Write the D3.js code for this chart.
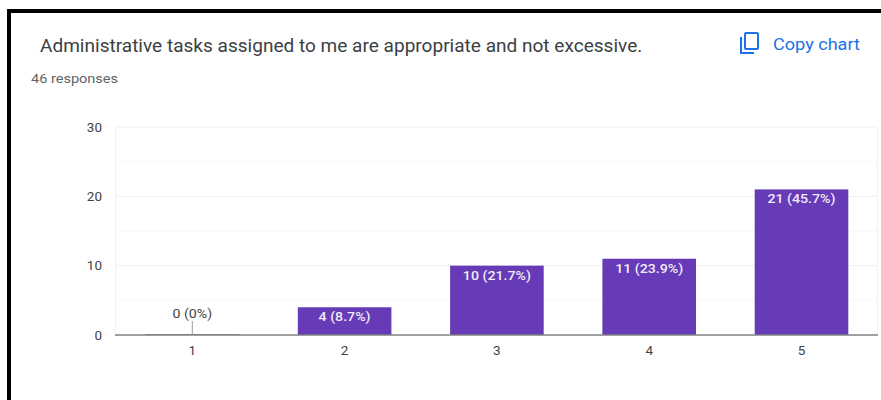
<!DOCTYPE html>
<html><head><meta charset="utf-8">
<style>html,body{margin:0;padding:0;background:#fff;overflow:hidden}svg{display:block}text{font-family:Roboto,sans-serif}</style>
<script src="https://cdn.jsdelivr.net/npm/d3@7/dist/d3.min.js"></script></head>
<body><svg id="c" width="881" height="400"></svg>
<script>
const categories=["1","2","3","4","5"];
const counts=[0,4,10,11,21];
const labels=["0 (0%)","4 (8.7%)","10 (21.7%)","11 (23.9%)","21 (45.7%)"];
const majorTicks=[0,10,20,30];
const minorTicks=[5,15,25];
const titleText="Administrative tasks assigned to me are appropriate and not excessive.";
const subtitleText="46 responses";
const copyText="Copy chart";

const svg=d3.select("#c");
const x=d3.scaleBand().domain(categories).range([116.15,877.65]).paddingInner(0.3854).paddingOuter(0.1927);
const y=d3.scaleLinear().domain([0,30]).range([335,127]);

// the reference is a slightly widened screenshot: widen text to its measured width
function widen(sel,k){sel.each(function(){this.setAttribute("textLength",this.getComputedTextLength()*k);this.setAttribute("lengthAdjust","spacingAndGlyphs");});return sel;}

// frame
svg.append("rect").attr("x",7).attr("y",9).attr("width",874).attr("height",4).attr("fill","#000");
svg.append("rect").attr("x",7).attr("y",9).attr("width",4).attr("height",391).attr("fill","#000");

widen(svg.append("text").attr("x",40).attr("y",51.5).attr("font-size",18).attr("fill","#3c4043").text(titleText),1.058);
widen(svg.append("text").attr("x",31).attr("y",82.5).attr("font-size",13.5).attr("fill","#5f6368").text(subtitleText),1.075);

// copy icon
const icon=svg.append("g").attr("fill","none").attr("stroke","#1a73e8").attr("stroke-width",2);
icon.append("rect").attr("x",745).attr("y",33).attr("width",13).attr("height",16).attr("rx",1);
icon.append("path").attr("d","M741 37V53H754");
widen(svg.append("text").attr("x",773).attr("y",49.5).attr("font-size",16).attr("font-weight",400).attr("fill","#1a73e8").text(copyText),1.13);

// grid
const grid=svg.append("g");
grid.selectAll("line.minor").data(minorTicks).join("line").attr("class","minor").attr("x1",115).attr("x2",878).attr("y1",d=>y(d)).attr("y2",d=>y(d)).attr("stroke","#f7f7f7");
grid.selectAll("line.major").data(majorTicks.filter(d=>d>0)).join("line").attr("class","major").attr("x1",115).attr("x2",878).attr("y1",d=>y(d)).attr("y2",d=>y(d)).attr("stroke","#efefef");
grid.append("line").attr("x1",115.5).attr("x2",115.5).attr("y1",127).attr("y2",335).attr("stroke","#f3f3f3");
grid.append("line").attr("x1",877.5).attr("x2",877.5).attr("y1",127).attr("y2",335).attr("stroke","#f3f3f3");

// y axis
const yAxis=d3.axisLeft(y).tickValues(majorTicks).tickSize(0).tickPadding(0).tickFormat(d3.format("d"));
const gy=svg.append("g").attr("transform","translate(102,0)").call(yAxis);
gy.select(".domain").remove();
gy.selectAll("text").attr("font-size",13.5).attr("font-family","Roboto,sans-serif").attr("fill","#444");

// bars
svg.selectAll("rect.bar").data(counts).join("rect").attr("class","bar")
 .attr("x",(d,i)=>x(categories[i])).attr("width",x.bandwidth())
 .attr("y",d=>y(d)-(d===0?1:0)).attr("height",d=>y(0)-y(d)+(d===0?1:0))
 .attr("fill",d=>d===0?"#8a7fa6":"#673ab7");

// axis line
svg.append("line").attr("x1",115).attr("x2",878).attr("y1",335).attr("y2",335).attr("stroke","#808080").attr("stroke-width",1.5);

// x axis
const xAxis=d3.axisBottom(x).tickSize(0).tickPadding(0);
const gx=svg.append("g").attr("transform","translate(0,345)").call(xAxis);
gx.select(".domain").remove();
gx.selectAll("text").attr("font-size",13.5).attr("font-family","Roboto,sans-serif").attr("fill","#444");

// leader for zero bar
counts.forEach((d,i)=>{ if(d===0){
  const cx=x(categories[i])+x.bandwidth()/2;
  svg.append("line").attr("x1",cx).attr("x2",cx).attr("y1",y(0)).attr("y2",y(0)-14).attr("stroke","#999");
}});

// labels
const lab=svg.selectAll("text.lab").data(counts).join("text").attr("class","lab")
 .attr("x",(d,i)=>x(categories[i])+x.bandwidth()/2)
 .attr("y",d=>d===0?y(0)-17.5:y(d)+14)
 .attr("text-anchor","middle").attr("font-size",13.5)
 .attr("font-weight",d=>d===0?400:500)
 .attr("fill",d=>d===0?"#444":"#f1ecf9")
 .text((d,i)=>labels[i]);
widen(lab,1.05);
</script></body></html>
